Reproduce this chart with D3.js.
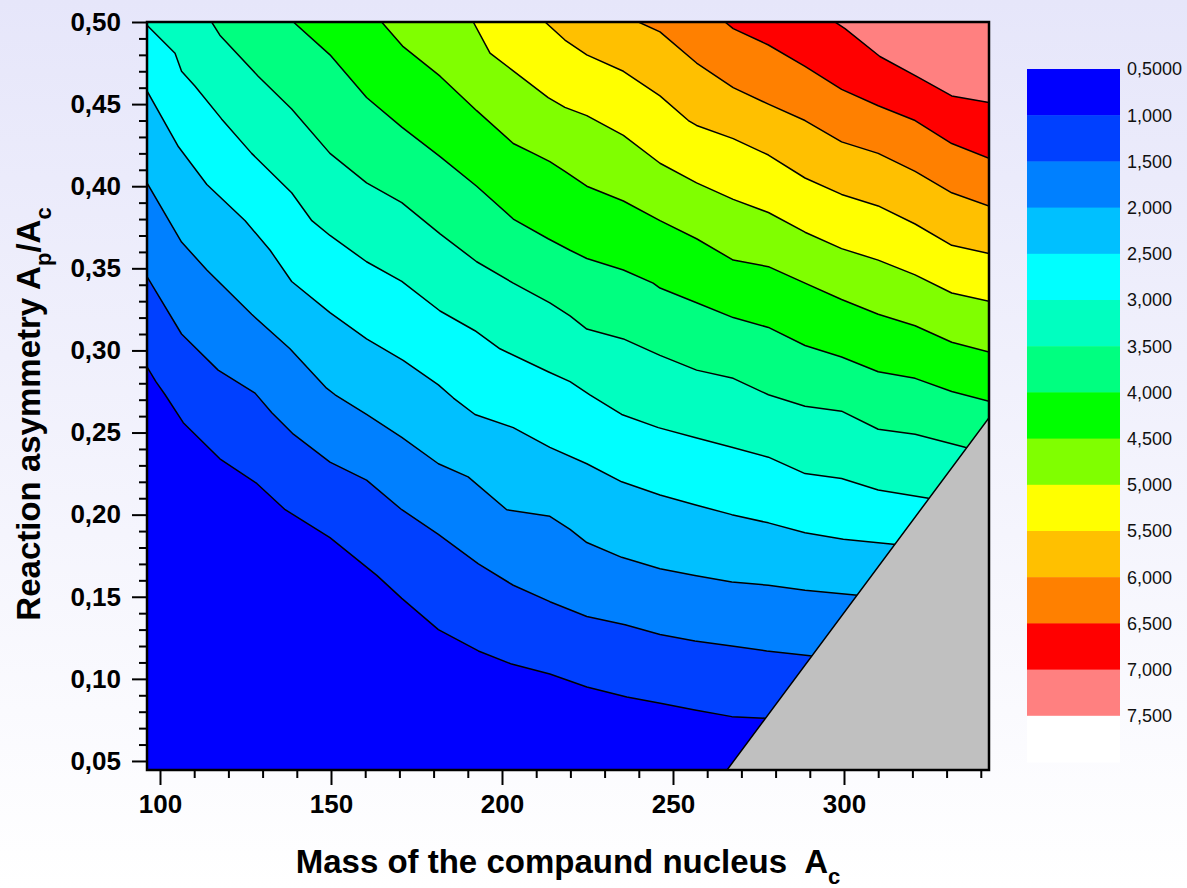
<!DOCTYPE html>
<html>
<head>
<meta charset="utf-8">
<script src="https://cdn.jsdelivr.net/npm/d3@7"></script>
<style>
  html, body { margin: 0; padding: 0; }
  svg { display: block; font-family: Arial, "Liberation Sans", sans-serif; }
</style>
</head>
<body>
<svg id="chart" width="1187" height="888"></svg>
<script>
// contour levels, legend and ticks
const levels = [1.0, 1.5, 2.0, 2.5, 3.0, 3.5, 4.0, 4.5, 5.0, 5.5, 6.0, 6.5, 7.0];
const legendLevels = [0.5, 1.0, 1.5, 2.0, 2.5, 3.0, 3.5, 4.0, 4.5, 5.0, 5.5, 6.0, 6.5, 7.0, 7.5];
const legendLabels = ['0,5000', '1,000', '1,500', '2,000', '2,500', '3,000', '3,500', '4,000',
                      '4,500', '5,000', '5,500', '6,000', '6,500', '7,000', '7,500'];
const bandColors = ['#0000FF', '#0040FF', '#0080FF', '#00C0FF', '#00FFFF', '#00FFC0', '#00FF80',
                    '#00FF00', '#80FF00', '#FFFF00', '#FFC000', '#FF8000', '#FF0000', '#FF8080', '#FFFFFF'];
const xTicks = [100, 150, 200, 250, 300];
const xMinorTicks = [110, 120, 130, 140, 160, 170, 180, 190, 210, 220, 230, 240, 260, 270, 280, 290, 310, 320, 330, 340];
const yTicks = [0.05, 0.10, 0.15, 0.20, 0.25, 0.30, 0.35, 0.40, 0.45, 0.50];
const xDomain = [96.2, 342.4];
const yDomain = [0.0445, 0.5];

// iso-lines: [A_c, A_p/A_c]
const iso10 = [[96.2,0.290],[98.8,0.281],[101.5,0.273],[106.8,0.256],[117.5,0.234],[128.3,0.219],[136.6,0.203],
  [149.7,0.186],[163.4,0.163],[170.7,0.149],[181.4,0.130],[193.1,0.117],[202.8,0.109],[214.0,0.103],[224.8,0.095],
  [236.5,0.089],[246.7,0.085],[256.4,0.081],[267.2,0.077],[276.9,0.076],[280,0.0755]];
const iso15 = [[96.2,0.345],[106.3,0.310],[117.0,0.288],[127.8,0.274],[132.7,0.262],[139.0,0.249],[149.7,0.232],
  [160.4,0.221],[170.7,0.203],[181.4,0.188],[193.1,0.170],[203.3,0.157],[214.0,0.147],[224.8,0.138],[236.0,0.133],
  [246.2,0.127],[256.4,0.123],[267.2,0.120],[277.4,0.117],[290.1,0.114],[293,0.1135]];
const iso20 = [[96.2,0.402],[106.3,0.366],[113.7,0.349],[126.8,0.322],[138.0,0.301],[148.7,0.277],[151.2,0.273],
  [160.4,0.261],[170.7,0.247],[181.4,0.231],[190.1,0.223],[201.4,0.203],[214.0,0.199],[219.9,0.191],[224.8,0.183],
  [235.0,0.174],[246.2,0.167],[256.4,0.163],[267.2,0.159],[277.9,0.157],[288.6,0.154],[303.2,0.151],[306,0.1505]];
const iso25 = [[96.2,0.458],[105.4,0.424],[113.7,0.401],[124.9,0.379],[132.2,0.361],[138.5,0.342],[149.7,0.323],
  [160.4,0.307],[171.1,0.294],[181.4,0.279],[185.8,0.271],[192.1,0.261],[203.3,0.253],[214.0,0.241],[224.8,0.231],
  [235.0,0.220],[246.2,0.212],[256.4,0.206],[267.2,0.200],[277.9,0.195],[288.6,0.189],[299.8,0.185],[314.4,0.182],[317,0.1815]];
const iso30 = [[96.2,0.498],[104.4,0.481],[106.3,0.470],[110.2,0.461],[118.0,0.441],[126.8,0.420],[138.5,0.396],
  [144.4,0.379],[149.7,0.370],[160.4,0.354],[170.7,0.342],[181.9,0.324],[192.1,0.312],[199.4,0.301],[213.5,0.287],
  [219.9,0.281],[225.7,0.273],[235.0,0.261],[245.7,0.253],[256.4,0.247],[267.2,0.241],[277.9,0.235],[288.6,0.225],
  [299.3,0.222],[310.0,0.215],[324.7,0.210],[327,0.2095]];
const iso35 = [[115.1,0.500],[117.5,0.492],[128.7,0.467],[138.5,0.447],[149.7,0.420],[160.4,0.402],[170.7,0.390],
  [181.9,0.371],[192.6,0.354],[203.3,0.341],[214.0,0.329],[219.9,0.321],[224.8,0.313],[235.5,0.307],[246.2,0.297],
  [256.9,0.288],[267.6,0.283],[277.9,0.273],[288.6,0.266],[299.3,0.263],[310.0,0.252],[320.8,0.249],[335.4,0.241],[338,0.2405]];
const iso40 = [[139.0,0.500],[149.7,0.480],[160.4,0.454],[170.7,0.436],[181.9,0.418],[192.6,0.400],[203.3,0.380],
  [213.5,0.368],[219.9,0.361],[224.8,0.356],[235.5,0.349],[244.2,0.341],[246.2,0.338],[256.9,0.329],[267.6,0.320],
  [277.9,0.314],[288.6,0.303],[299.3,0.296],[310.0,0.287],[320.8,0.283],[331.5,0.275],[342.4,0.269]];
const iso45 = [[164.8,0.500],[171.1,0.485],[181.9,0.467],[192.6,0.446],[203.3,0.426],[209.2,0.420],[214.0,0.415],
  [218.4,0.409],[224.8,0.400],[235.5,0.391],[246.2,0.379],[256.9,0.368],[267.6,0.355],[277.9,0.351],[288.6,0.341],
  [299.3,0.331],[310.0,0.322],[320.8,0.315],[331.5,0.305],[342.4,0.299]];
const iso50 = [[191.6,0.500],[196.5,0.481],[202.8,0.471],[213.5,0.454],[218.4,0.448],[224.8,0.443],[235.5,0.431],
  [246.2,0.414],[256.9,0.402],[267.6,0.392],[277.9,0.384],[288.6,0.372],[299.3,0.362],[310.0,0.355],[320.8,0.346],
  [331.5,0.335],[342.4,0.330]];
const iso55 = [[212.6,0.500],[218.4,0.489],[224.8,0.480],[235.5,0.470],[246.2,0.455],[254.5,0.440],[256.9,0.437],
  [267.6,0.429],[277.9,0.419],[288.6,0.405],[299.3,0.395],[310.0,0.388],[320.8,0.377],[331.5,0.364],[342.4,0.359]];
const iso60 = [[239.9,0.500],[246.2,0.494],[256.9,0.475],[267.6,0.460],[277.9,0.450],[288.6,0.440],[299.3,0.427],
  [310.0,0.420],[320.8,0.409],[331.5,0.396],[342.4,0.388]];
const iso65 = [[265.2,0.500],[267.6,0.496],[277.9,0.486],[288.6,0.473],[299.3,0.459],[310.0,0.449],[320.8,0.440],
  [331.5,0.426],[342.4,0.417]];
const iso70 = [[297.4,0.500],[300.3,0.496],[310.5,0.479],[321.1,0.467],[331.5,0.455],[342.4,0.451]];

// edge of the region with no data (grey)
const excludedEdge = [[265.8, 0.0445], [342.4, 0.259]];

const isoLines = [iso10, iso15, iso20, iso25, iso30, iso35, iso40, iso45, iso50, iso55, iso60, iso65, iso70];

const W = 1187, H = 888;
const plot = {left: 147, top: 22, right: 989, bottom: 770};
const commaFmt = d3.formatLocale({decimal: ',', thousands: '.', grouping: [3], currency: ['', '']}).format('.2f');

const svg = d3.select('#chart');
const defs = svg.append('defs');

const grad = defs.append('linearGradient').attr('id', 'bg').attr('x1', 0).attr('y1', 0).attr('x2', 0).attr('y2', 1);
grad.append('stop').attr('offset', '0%').attr('stop-color', '#E6E6FA');
grad.append('stop').attr('offset', '100%').attr('stop-color', '#FFFFFF');
svg.append('rect').attr('width', W).attr('height', H).attr('fill', 'url(#bg)');

const x = d3.scaleLinear().domain(xDomain).range([plot.left, plot.right]);
const y = d3.scaleLinear().domain(yDomain).range([plot.bottom, plot.top]);

defs.append('clipPath').attr('id', 'clip')
  .append('rect')
  .attr('x', plot.left).attr('y', plot.top)
  .attr('width', plot.right - plot.left).attr('height', plot.bottom - plot.top);

const map = svg.append('g').attr('clip-path', 'url(#clip)');
const line = d3.line().x(d => x(d[0])).y(d => y(d[1]));

// lowest band fills everything, then every level paints the area above its line
map.append('rect')
  .attr('x', plot.left).attr('y', plot.top)
  .attr('width', plot.right - plot.left).attr('height', plot.bottom - plot.top)
  .attr('fill', bandColors[0]);

const [xMin, xMax] = xDomain, [yMin, yMax] = yDomain;
isoLines.forEach((pts, i) => {
  const poly = pts.concat([[xMax, yMin], [xMax, yMax], [xMin, yMax]]);
  map.append('path')
    .attr('d', line(poly) + 'Z')
    .attr('fill', bandColors[i + 1]);
});

isoLines.forEach(pts => {
  map.append('path')
    .attr('d', line(pts))
    .attr('fill', 'none')
    .attr('stroke', '#000')
    .attr('stroke-width', 1.5)
    .attr('stroke-linejoin', 'round');
});

map.append('path')
  .attr('d', line([excludedEdge[0], [xMax, yMin], excludedEdge[1]]) + 'Z')
  .attr('fill', '#C0C0C0')
  .attr('stroke', '#000')
  .attr('stroke-width', 1.5);

// axes
function styleAxis(g) {
  g.select('.domain').remove();
  g.selectAll('line').attr('stroke', '#000').attr('stroke-width', 2);
  g.selectAll('text').attr('font-size', 26).attr('font-weight', 'bold')
    .attr('fill', '#000').attr('font-family', 'Arial, "Liberation Sans", sans-serif');
}

svg.append('g').attr('transform', `translate(0,${plot.bottom})`)
  .call(d3.axisBottom(x).tickValues(xMinorTicks).tickSize(8).tickFormat(''))
  .call(styleAxis);
svg.append('g').attr('transform', `translate(0,${plot.bottom})`)
  .call(d3.axisBottom(x).tickValues(xTicks).tickSize(15).tickPadding(10).tickFormat(d3.format('d')))
  .call(styleAxis);

const yMinor = d3.range(5, 50).map(v => v / 100).filter(v => v % 0.05 > 0.001 && v % 0.05 < 0.049);
svg.append('g').attr('transform', `translate(${plot.left},0)`)
  .call(d3.axisLeft(y).tickValues(yMinor).tickSize(8).tickFormat(''))
  .call(styleAxis);
svg.append('g').attr('transform', `translate(${plot.left},0)`)
  .call(d3.axisLeft(y).tickValues(yTicks).tickSize(15).tickPadding(11).tickFormat(commaFmt))
  .call(styleAxis);

// frame
svg.append('rect')
  .attr('x', plot.left).attr('y', plot.top)
  .attr('width', plot.right - plot.left).attr('height', plot.bottom - plot.top)
  .attr('fill', 'none').attr('stroke', '#000').attr('stroke-width', 2.5);

// axis titles
const xTitle = svg.append('text')
  .attr('x', (plot.left + plot.right) / 2).attr('y', 873)
  .attr('text-anchor', 'middle').attr('font-size', 33).attr('font-weight', 'bold')
  .style('white-space', 'pre');
xTitle.append('tspan').text('Mass of the compaund nucleus  A');
xTitle.append('tspan').attr('font-size', 22).attr('dy', 11).text('c');

const yTitle = svg.append('text')
  .attr('transform', `translate(40,${(plot.top + plot.bottom) / 2 + 18}) rotate(-90)`)
  .attr('text-anchor', 'middle').attr('font-size', 33).attr('font-weight', 'bold');
yTitle.append('tspan').text('Reaction asymmetry A');
yTitle.append('tspan').attr('font-size', 22).attr('dy', 11).text('p');
yTitle.append('tspan').attr('dy', -11).text('/A');
yTitle.append('tspan').attr('font-size', 22).attr('dy', 11).text('c');

// legend
const legY = d3.scaleBand().domain(legendLevels).range([69, 762]).padding(0);
const legend = svg.append('g');
legend.selectAll('rect').data(legendLevels).join('rect')
  .attr('x', 1027).attr('y', d => legY(d))
  .attr('width', 93).attr('height', legY.bandwidth() + 0.5)
  .attr('fill', (d, i) => bandColors[i]);
legend.selectAll('text').data(legendLevels).join('text')
  .attr('x', 1127).attr('y', d => legY(d))
  .attr('dy', '0.35em')
  .attr('font-size', 18).attr('fill', '#111')
  .text((d, i) => legendLabels[i]);
</script>
</body>
</html>
